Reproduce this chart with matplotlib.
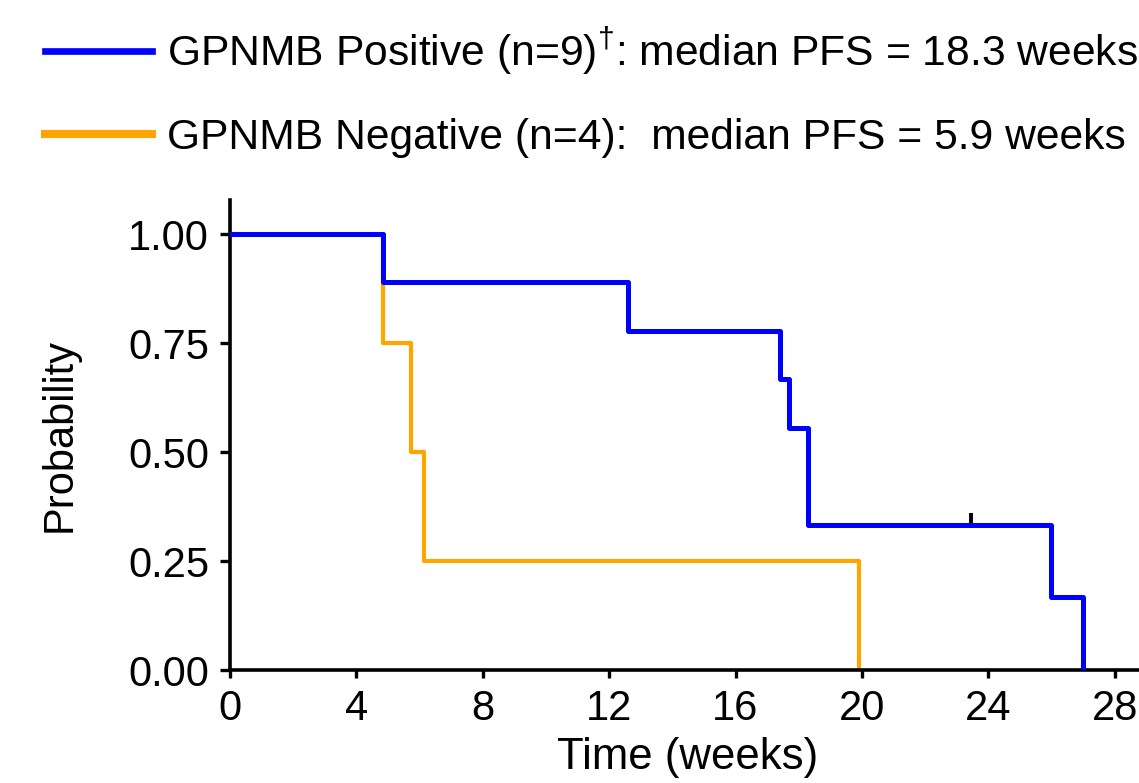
import matplotlib.pyplot as plt
from matplotlib.path import Path

plt.rcParams['font.family'] = ['Liberation Sans', 'DejaVu Sans']
plt.rcParams['mathtext.fontset'] = 'custom'
plt.rcParams['mathtext.rm'] = 'Liberation Sans'

# Kaplan-Meier step data (weeks, survival probability)
pos_times = [0, 4.85, 12.6, 17.4, 17.7, 18.3, 26.0, 27.0]
pos_surv = [1.0, 0.889, 0.778, 0.667, 0.556, 0.333, 0.167, 0.0]
pos_censor_t = [23.45]
pos_censor_s = [0.333]

neg_times = [0, 4.85, 5.73, 6.14, 19.9]
neg_surv = [1.0, 0.75, 0.5, 0.25, 0.0]

pos_label = r'GPNMB Positive (n=9)$^{\dagger}$: median PFS = 18.3 weeks'
neg_label = 'GPNMB Negative (n=4):  median PFS = 5.9 weeks'

x_ticks = [0, 4, 8, 12, 16, 20, 24, 28]
y_ticks = [0.0, 0.25, 0.5, 0.75, 1.0]

fig = plt.figure(figsize=(11.39, 7.83), dpi=100)
ax = fig.add_axes([230 / 1139, 113 / 783, 909 / 1139, 470 / 783])

# censor mark: short tick pointing up from the curve
up_tick = Path([(0, 0), (0, 1)])
ax.plot(pos_censor_t, pos_censor_s, marker=up_tick, color='black', markersize=17,
        markeredgewidth=2.8, linestyle='none', zorder=2)
neg_line, = ax.step(neg_times, neg_surv, where='post', color='#FFA500', lw=3.0,
                    zorder=2, label=neg_label)
pos_line, = ax.step(pos_times, pos_surv, where='post', color='#0000FF', lw=3.6,
                    zorder=3, label=pos_label)

ax.set_xlim(0, 28.77)
ax.set_ylim(0, 1.078)
ax.set_xticks(x_ticks)
ax.set_yticks(y_ticks)
ax.set_yticklabels([f'{v:.2f}' for v in y_ticks])

for s in ['top', 'right']:
    ax.spines[s].set_visible(False)
for s in ['left', 'bottom']:
    ax.spines[s].set_linewidth(2.6)
ax.tick_params(axis='both', labelsize=30, width=2.4, direction='out')
ax.tick_params(axis='x', length=6, pad=8)
ax.tick_params(axis='y', length=7, pad=8)

ax.set_xlabel('Time (weeks)', fontsize=31.5)
ax.set_ylabel('Probability', fontsize=30)
ax.xaxis.set_label_coords(0.503, -0.142)
ax.yaxis.set_label_coords(-0.165, 0.5)

leg = fig.legend(handles=[pos_line, neg_line], loc='upper left',
                 bbox_to_anchor=(45 / 1139, 1 - 26 / 783), frameon=False, fontsize=30.7,
                 handlelength=2.5, handletextpad=0.36, labelspacing=0.95, borderpad=0,
                 borderaxespad=0)
for ln, w in zip(leg.get_lines(), [4.8, 5.8]):
    ln.set_linewidth(w)

fig.savefig('out.png', dpi=100)
